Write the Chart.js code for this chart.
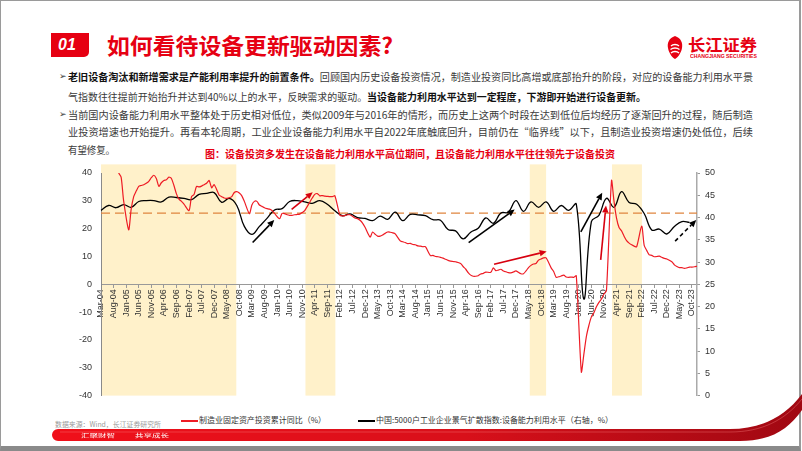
<!DOCTYPE html>
<html><head><meta charset="utf-8">
<script src="https://cdn.jsdelivr.net/npm/chart.js@4.4.0/dist/chart.umd.min.js"></script>
<style>
html,body{margin:0;padding:0;background:#fff;}
#slide{position:relative;width:802px;height:451px;overflow:hidden;background:#fff;font-family:"Noto Sans CJK SC","Noto Sans",sans-serif;}
.frame{position:absolute;left:0;top:0;width:798px;height:445px;border:1px solid #9a9a9a;border-right:2px solid #9a9a9a;border-bottom:5px solid #8a8a8a;}
.t{position:absolute;white-space:nowrap;transform-origin:0 50%;line-height:1;}
.p{font-size:10px;color:#3a3a3a;}
.p b{color:#111;font-weight:700;}
#chartBox{position:absolute;left:0;top:150px;width:802px;height:260px;}
</style></head>
<body>
<div id="slide">
  <div class="frame"></div>
  <!-- header -->
  <div style="position:absolute;left:51px;top:33px;width:38px;height:24px;background:#E60012;border-bottom-right-radius:5px;"></div>
  <div class="t" style="left:58px;top:36px;font:italic 700 16px 'Liberation Sans',sans-serif;color:#fff;">01</div>
  <div class="t fit" data-w="286" style="left:107px;top:33px;font-size:22px;font-weight:700;color:#E60012;">如何看待设备更新驱动因素?</div>
  <!-- logo -->
  <svg style="position:absolute;left:664px;top:34px" width="22" height="26" viewBox="0 0 22 26">
    <path d="M11 2 C5 4 3 9 4 14 C5 20 9 24 11 25 C13 24 17 20 18 14 C19 9 17 4 11 2 Z" fill="#E60012"/>
    <path d="M7 12 C9 10 13 10 15 12 M6.5 15.5 C9 13.5 13 13.5 15.5 15.5 M7 19 C9 17 13 17 15 19" stroke="#fff" stroke-width="1.3" fill="none"/>
  </svg>
  <div class="t fit" data-w="69" style="left:688px;top:36px;font-size:16px;font-weight:700;color:#E60012;">长江证券</div>
  <div class="t fit" data-w="67" style="left:690px;top:53px;font:700 5px 'Liberation Sans',sans-serif;color:#E60012;">CHANGJIANG SECURITIES</div>

  <!-- body text -->
  <div class="t p" style="left:59px;top:71px;font-size:9px;">➢</div>
  <div class="t p fit" data-w="685" style="left:68px;top:72px;"><b>老旧设备淘汰和新增需求是产能利用率提升的前置条件。</b>回顾国内历史设备投资情况，制造业投资同比高增或底部抬升的阶段，对应的设备能力利用水平景</div>
  <div class="t p fit" data-w="578" style="left:68px;top:92px;">气指数往往提前开始抬升并达到40%以上的水平，反映需求的驱动。<b>当设备能力利用水平达到一定程度，下游即开始进行设备更新。</b></div>
  <div class="t p" style="left:59px;top:109px;font-size:9px;">➢</div>
  <div class="t p fit" data-w="685" style="left:68px;top:110px;">当前国内设备能力利用水平整体处于历史相对低位，类似2009年与2016年的情形，而历史上这两个时段在达到低位后均经历了逐渐回升的过程，随后制造</div>
  <div class="t p fit" data-w="685" style="left:68px;top:127px;">业投资增速也开始提升。再看本轮周期，工业企业设备能力利用水平自2022年底触底回升，目前仍在“临界线”以下，且制造业投资增速仍处低位，后续</div>
  <div class="t p fit" data-w="47" style="left:68px;top:145px;">有望修复。</div>
  <div class="t fit" data-w="410" style="left:205px;top:149px;font-size:10px;font-weight:700;color:#E60012;">图：设备投资多发生在设备能力利用水平高位期间，且设备能力利用水平往往领先于设备投资</div>

  <div id="chartBox"><canvas id="c" width="802" height="260"></canvas></div>

  <!-- legend & source -->
  <div style="position:absolute;left:181px;top:420px;width:17px;height:1.5px;background:#EE1C25;"></div>
  <div class="t fit" data-w="127" style="left:199px;top:416px;font-size:8px;color:#333;">制造业固定资产投资累计同比（%）</div>
  <div style="position:absolute;left:358px;top:420px;width:17px;height:1.5px;background:#000;"></div>
  <div class="t fit" data-w="237" style="left:376px;top:416px;font-size:8px;color:#333;">中国:5000户工业企业景气扩散指数:设备能力利用水平（右轴，%）</div>
  <div class="t fit" data-w="106" style="left:55px;top:421px;font-size:7px;color:#9a9a9a;">数据来源：Wind，长江证券研究所</div>

  <!-- bottom swoosh -->
  <svg style="position:absolute;left:0;top:0" width="802" height="451">
    <defs><linearGradient id="g" x1="0" x2="1" y1="0" y2="0">
      <stop offset="0" stop-color="#F0101A"/><stop offset="0.55" stop-color="#D8101A"/><stop offset="1" stop-color="#A00812"/></linearGradient></defs>
    <path d="M58,429 L730,429 C760,429 784,418 802,394 L802,410 C788,430 770,441 740,441 L58,441 A6,6 0 0 1 58,429 Z" fill="url(#g)"/>
    <path d="M60,432 L730,432 C762,432 785,420 802,399" stroke="#ff8a8a" stroke-width="0.6" fill="none" opacity="0.6"/>
  </svg>
  <div class="t fit" data-w="34" style="left:81px;top:432px;font-size:5px;color:#fff;">汇聚财智</div>
  <div class="t fit" data-w="34" style="left:135px;top:432px;font-size:5px;color:#fff;">共享成长</div>
</div>
<script>
// ---------------- data ----------------
const monthNames = ['Jan','Feb','Mar','Apr','May','Jun','Jul','Aug','Sep','Oct','Nov','Dec'];
const categories = [];
for (let y = 2004; y <= 2023; y++) for (let m = 0; m < 12; m++) {
  if (y === 2004 && m < 2) continue;
  categories.push(monthNames[m] + '-' + String(y).slice(2));
}
// 制造业固定资产投资累计同比 (%), monthly, Mar-04 .. Dec-23
const red2004 = [null,null,null,null,null,null,null,40,38.5,30];
const red2005 = [null,19.6,27,31.5,33.5,35.2,35.5,35.8,36.3,37,38.3,39.2];
const red2006 = [38,35.2,36.5,37.3,37.6,38.5,38,35.5,32.5,30.6,29.8,28.8];
const red2007 = [null,26.5,31.5,32.3,35.2,35,35.3,35.8,36.3,37.3,34.7,35.8];
const red2008 = [null,32,31.5,31,30.9,31.1,31.5,33,33.3,32.8,31.8,29.8];
const red2009 = [null,25.4,28.5,29.8,29.8,28.5,28,27.5,27.2,27,26.5,25.5];
const red2010 = [null,23.6,25.5,25.4,25,24.8,24.8,25,25.1,25.2,25.8,26.5];
const red2011 = [null,29.5,31,32.3,32.6,31.8,31.9,31.7,31.6,31.5,31.5,31.8];
const red2012 = [null,24.8,24.6,24.7,25,25,24.5,23.8,23.6,23,22,20.5];
const red2013 = [null,17,18.8,18,17.3,17.3,17.7,18.3,18.8,18.7,18.5,18.1];
const red2014 = [null,15.6,15.3,15,14.6,14.7,14.3,14.2,13.8,13.7,13.5,13.5];
const red2015 = [null,10.3,10.4,10,9.9,9.7,9.4,9,8.6,8.3,8.2,8.1];
const red2016 = [null,7.5,6.4,5.5,4.2,3.3,2.9,2.9,3.1,3.7,3.9,4.4];
const red2017 = [null,4.3,5.9,4.9,5.1,5.4,4.8,4.5,4.2,4.1,4.4,4.8];
const red2018 = [null,3.8,3.8,4.8,6.0,6.8,7.3,7.5,8.7,9.1,9.5,9.5];
const red2019 = [null,5.9,4.6,2.5,2.7,3.0,3.3,2.6,2.5,2.6,2.5,3.1];
const red2020 = [null,-31.5,-25.2,-18.8,-14.8,-11.7,-10.2,-8.1,-6.5,-5.3,-3.5,-2.2];
const red2021 = [null,37.3,29.8,23.8,20.4,19.2,17.3,15.7,14.8,14.2,13.7,13.5];
const red2022 = [null,20.9,14,12.2,10.6,10.4,9.9,10.0,10.1,9.7,9.3,9.1];
const red2023 = [null,8.1,7.0,6.4,6.0,6.0,5.7,5.9,6.2,6.2,6.3,6.5];
const investYoY = [].concat(red2004,red2005,red2006,red2007,red2008,red2009,red2010,red2011,
  red2012,red2013,red2014,red2015,red2016,red2017,red2018,red2019,red2020,red2021,red2022,red2023);

// 设备能力利用水平 (%), quarterly (Mar/Jun/Sep/Dec), Q1-04 .. Q3-23
const capQuarterly = [
  41.6,42.7,42.2,42.9, 42.3,43.6,43.8,43.8, 43.5,44.6,44.5,44.3, 44.0,45.2,45.4,45.6,
  43.4,44.3,42.7,38.0, 36.2,38.0,39.8,41.7, 42.0,43.6,43.8,43.5, 43.2,43.8,43.0,41.5,
  40.4,40.8,40.0,39.8, 39.3,40.3,39.6,41.2, 39.3,40.7,40.6,40.4, 39.5,39.4,37.3,37.0,
  35.2,36.7,37.6,39.9, 38.7,41.0,41.2,43.8, 41.4,43.5,42.3,43.5, 41.4,42.7,41.6,43.0,
  21.7,39.1,40.5,44.3, 42.3,45.8,43.4,43.0, 40.9,37.2,37.4,36.3, 38.0,39.1,38.9
];
const capUtil = categories.map((_, i) => (i % 3 === 0 && capQuarterly[i / 3] !== undefined) ? capQuarterly[i / 3] : null);

const leftTicks = { min: -40, max: 40, step: 10 };
const rightTicks = { min: 0, max: 50, step: 5 };
const thresholdRight = 41;           // 临界线 (right axis)
// shaded periods, in category positions
const bands = [[0, 53.8], [81.3, 93.2], [170.5, 177], [203.2, 215.1]];
const bandTopValue = 43.1;           // left-axis value of the band top
// annotation arrows: [x position, left-axis value]
const arrows = [
  { from: [60.3, 15],   to: [68.9, 23.1],  color: '#000' },
  { from: [75.8, 26.9], to: [84.2, 33.1],  color: '#D7000F' },
  { from: [146.2, 15],  to: [164.5, 26.9], color: '#000' },
  { from: [156.3, 7.2], to: [177.2, 11.8], color: '#D7000F' },
  { from: [190.8, 18.8],to: [199.3, 32.9], color: '#000' },
  { from: [198.7, 8.8], to: [200.8, 28.3], color: '#D7000F' },
  { from: [228.3, 15.5],to: [236.7, 23.1], color: '#000', dashed: true }
];

// ---------------- text fitting ----------------
document.querySelectorAll('.fit').forEach(el => {
  const w = parseFloat(el.dataset.w);
  const cur = el.getBoundingClientRect().width;
  if (cur > 0) el.style.transform = 'scaleX(' + (w / cur) + ')';
});

// ---------------- chart ----------------
const overlay = {
  id: 'overlay',
  beforeDraw(chart) {
    const { ctx } = chart; const x = chart.scales.x, y = chart.scales.y;
    ctx.save();
    ctx.fillStyle = '#FFF1CA';
    const yt = y.getPixelForValue(bandTopValue), yb = y.getPixelForValue(leftTicks.min);
    bands.forEach(([a, b]) => {
      const x1 = x.getPixelForValue(a), x2 = x.getPixelForValue(b);
      ctx.fillRect(x1, yt, x2 - x1, yb - yt);
    });
    ctx.restore();
  },
  beforeDatasetsDraw(chart) {
    const { ctx, chartArea } = chart; const y2 = chart.scales.y2;
    const py = y2.getPixelForValue(thresholdRight);
    ctx.save();
    ctx.strokeStyle = '#E0853F'; ctx.lineWidth = 1.3; ctx.setLineDash([9, 5]);
    ctx.beginPath(); ctx.moveTo(chartArea.left, py); ctx.lineTo(chartArea.right, py); ctx.stroke();
    ctx.restore();
  },
  afterDatasetsDraw(chart) {
    const { ctx } = chart; const x = chart.scales.x, y = chart.scales.y;
    arrows.forEach(a => {
      const x1 = x.getPixelForValue(a.from[0]), y1 = y.getPixelForValue(a.from[1]);
      const x2 = x.getPixelForValue(a.to[0]), y2 = y.getPixelForValue(a.to[1]);
      const ang = Math.atan2(y2 - y1, x2 - x1), hl = 7, hw = 3.2;
      const bx = x2 - hl * Math.cos(ang), by = y2 - hl * Math.sin(ang);
      ctx.save();
      ctx.strokeStyle = a.color; ctx.fillStyle = a.color; ctx.lineWidth = 1.6;
      if (a.dashed) ctx.setLineDash([4, 3]);
      ctx.beginPath(); ctx.moveTo(x1, y1); ctx.lineTo(bx, by); ctx.stroke();
      ctx.setLineDash([]);
      ctx.beginPath(); ctx.moveTo(x2, y2);
      ctx.lineTo(bx + hw * Math.sin(ang), by - hw * Math.cos(ang));
      ctx.lineTo(bx - hw * Math.sin(ang), by + hw * Math.cos(ang));
      ctx.closePath(); ctx.fill();
      ctx.restore();
    });
  }
};

const tickFont = { family: "'Liberation Sans', Arial, sans-serif", size: 9 };
new Chart(document.getElementById('c'), {
  type: 'line',
  data: {
    labels: categories,
    datasets: [
      { label: '制造业固定资产投资累计同比（%）', data: investYoY, yAxisID: 'y', borderColor: '#EE1C25',
        borderWidth: 1.2, pointRadius: 0, tension: 0.25, spanGaps: true },
      { label: '中国:5000户工业企业景气扩散指数:设备能力利用水平（右轴，%）', data: capUtil, yAxisID: 'y2',
        borderColor: '#000', borderWidth: 1.3, pointRadius: 0, tension: 0.4, spanGaps: true }
    ]
  },
  options: {
    responsive: false, animation: false, devicePixelRatio: 1,
    layout: { padding: { left: 0, right: 0, top: 23, bottom: 7 } },
    plugins: { legend: { display: false }, tooltip: { enabled: false } },
    scales: {
      x: {
        type: 'category', position: { y: 0 }, offset: false,
        grid: { display: true, drawOnChartArea: false, drawTicks: true, tickLength: 3, color: '#999' },
        border: { display: true, color: '#999', width: 1 },
        ticks: { autoSkip: false, maxRotation: 90, minRotation: 90, padding: 2, color: '#333', font: tickFont },
        afterBuildTicks: s => { s.ticks = s.ticks.filter(t => t.value % 5 === 0); },
        afterFit: s => { s.height = 0; }
      },
      y: {
        position: 'left', min: leftTicks.min, max: leftTicks.max,
        ticks: { stepSize: leftTicks.step, padding: 9, color: '#333', font: tickFont },
        grid: { display: false, drawTicks: false },
        border: { display: true, color: '#8a8a8a', width: 1 },
        afterFit: s => { s.width = 101; }
      },
      y2: {
        position: 'right', min: rightTicks.min, max: rightTicks.max,
        ticks: { stepSize: rightTicks.step, padding: 5, color: '#333', font: tickFont },
        grid: { display: true, drawOnChartArea: false, drawTicks: true, tickLength: 3, color: '#999' },
        border: { display: true, color: '#aaa', width: 1.5 },
        afterFit: s => { s.width = 105; }
      }
    }
  },
  plugins: [overlay]
});
</script>
</body></html>
